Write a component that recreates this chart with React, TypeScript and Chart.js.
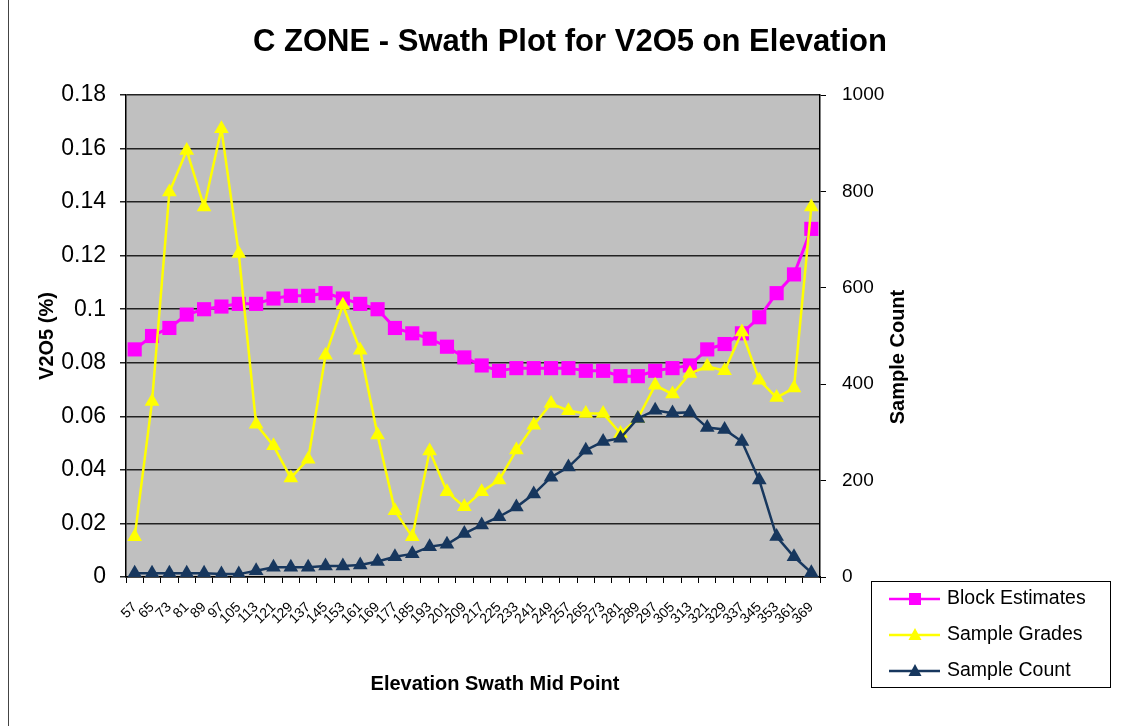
import { useEffect, useRef } from "react";
import { Chart, registerables } from "chart.js";

Chart.register(...registerables);

const FONT = "'Liberation Sans', Arial, Helvetica, sans-serif";

const elevations: string[] = [
  "57", "65", "73", "81", "89", "97", "105", "113", "121", "129",
  "137", "145", "153", "161", "169", "177", "185", "193", "201", "209",
  "217", "225", "233", "241", "249", "257", "265", "273", "281", "289",
  "297", "305", "313", "321", "329", "337", "345", "353", "361", "369",
];

const blockEstimates: number[] = [
  0.085, 0.09, 0.093, 0.098, 0.1, 0.101, 0.102, 0.102, 0.104, 0.105,
  0.105, 0.106, 0.104, 0.102, 0.1, 0.093, 0.091, 0.089, 0.086, 0.082,
  0.079, 0.077, 0.078, 0.078, 0.078, 0.078, 0.077, 0.077, 0.075, 0.075,
  0.077, 0.078, 0.079, 0.085, 0.087, 0.091, 0.097, 0.106, 0.113, 0.13,
];

const sampleGrades: number[] = [
  0.015, 0.0655, 0.1438, 0.1593, 0.1382, 0.1674, 0.1208, 0.057, 0.049, 0.037,
  0.044, 0.0828, 0.1015, 0.0847, 0.053, 0.0247, 0.015, 0.0471, 0.0318, 0.0262,
  0.0318, 0.0362, 0.0474, 0.0567, 0.0648, 0.0621, 0.0611, 0.0611, 0.0536, 0.0592,
  0.0716, 0.0683, 0.076, 0.0787, 0.077, 0.0915, 0.0735, 0.067, 0.0706, 0.1382,
];

const sampleCount: number[] = [
  8, 8, 8, 8, 8, 6, 6, 13, 20, 20,
  20, 23, 23, 25, 32, 42, 48, 63, 68, 90,
  108, 125, 145, 172, 207, 228, 263, 281, 288, 329,
  346, 340, 342, 310, 306, 281, 201, 84, 42, 9,
];

const gradeTicks = { min: 0, max: 0.18, step: 0.02 };
const countTicks = { min: 0, max: 1000, step: 200 };

const MAGENTA = "#FF00FF";
const YELLOW = "#FFFF00";
const NAVY = "#17375E";

const legendItems = [
  { label: "Block Estimates", color: MAGENTA, style: "rect" },
  { label: "Sample Grades", color: YELLOW, style: "triangle" },
  { label: "Sample Count", color: NAVY, style: "triangle" },
];

const decorPlugin = {
  id: "decor",
  beforeDraw(chart: any) {
    const { ctx, chartArea } = chart;
    ctx.save();
    ctx.fillStyle = "#FFFFFF";
    ctx.fillRect(0, 0, chart.width, chart.height);
    ctx.fillStyle = "#C0C0C0";
    ctx.fillRect(chartArea.left, chartArea.top, chartArea.right - chartArea.left, chartArea.bottom - chartArea.top);
    ctx.restore();
  },
  afterDraw(chart: any) {
    const { ctx } = chart;
    ctx.save();
    // left page border
    ctx.strokeStyle = "#444";
    ctx.lineWidth = 1;
    ctx.beginPath();
    ctx.moveTo(8.5, 0);
    ctx.lineTo(8.5, chart.height);
    ctx.stroke();

    ctx.fillStyle = "#000";
    ctx.textAlign = "center";
    ctx.textBaseline = "middle";
    ctx.font = `bold 31px ${FONT}`;
    ctx.fillText("C ZONE - Swath Plot for V2O5 on Elevation", 570, 42);

    ctx.font = `bold 20px ${FONT}`;
    ctx.fillText("Elevation Swath Mid Point", 495, 684);

    ctx.save();
    ctx.translate(47, 336);
    ctx.rotate(-Math.PI / 2);
    ctx.fillText("V2O5 (%)", 0, 0);
    ctx.restore();

    ctx.save();
    ctx.translate(898, 357);
    ctx.rotate(-Math.PI / 2);
    ctx.fillText("Sample Count", 0, 0);
    ctx.restore();

    // legend
    ctx.strokeStyle = "#000";
    ctx.lineWidth = 1;
    ctx.strokeRect(871.5, 581.5, 239, 106);
    ctx.textAlign = "left";
    ctx.font = `19.5px ${FONT}`;
    legendItems.forEach((it, i) => {
      const y = 599 + i * 36;
      ctx.strokeStyle = it.color;
      ctx.lineWidth = 2.5;
      ctx.beginPath();
      ctx.moveTo(889, y);
      ctx.lineTo(940, y);
      ctx.stroke();
      ctx.fillStyle = it.color;
      if (it.style === "rect") {
        ctx.fillRect(909, y - 6, 12, 12);
      } else {
        ctx.beginPath();
        ctx.moveTo(915, y - 7);
        ctx.lineTo(921.5, y + 5);
        ctx.lineTo(908.5, y + 5);
        ctx.closePath();
        ctx.fill();
      }
      ctx.fillStyle = "#000";
      ctx.fillText(it.label, 947, y);
    });
    ctx.restore();
  },
};

export default function App() {
  const ref = useRef<HTMLCanvasElement | null>(null);

  useEffect(() => {
    if (!ref.current) return;
    const chart = new Chart(ref.current, {
      type: "line",
      data: {
        labels: elevations,
        datasets: [
          {
            label: "Block Estimates",
            data: blockEstimates,
            yAxisID: "yL",
            borderColor: MAGENTA,
            backgroundColor: MAGENTA,
            borderWidth: 3,
            pointStyle: "rect",
            pointRadius: 10,
            pointBorderWidth: 0,
            tension: 0,
            order: 3,
          },
          {
            label: "Sample Grades",
            data: sampleGrades,
            yAxisID: "yL",
            borderColor: YELLOW,
            backgroundColor: YELLOW,
            borderWidth: 2.5,
            pointStyle: "triangle",
            pointRadius: 8.5,
            pointBorderWidth: 0,
            tension: 0,
            order: 2,
          },
          {
            label: "Sample Count",
            data: sampleCount,
            yAxisID: "yR",
            borderColor: NAVY,
            backgroundColor: NAVY,
            borderWidth: 2.5,
            pointStyle: "triangle",
            pointRadius: 8.5,
            pointBorderWidth: 0,
            tension: 0,
            order: 1,
          },
        ],
      },
      options: {
        responsive: false,
        animation: false,
        layout: { padding: { top: 95, left: 0, right: 0, bottom: 0 } },
        plugins: {
          legend: { display: false },
          title: { display: false },
          tooltip: { enabled: false },
        },
        scales: {
          x: {
            type: "category",
            offset: true,
            grid: {
              offset: true,
              drawOnChartArea: false,
              drawTicks: true,
              tickLength: 6,
              color: "#000",
            },
            border: { color: "#000", width: 1.5 },
            ticks: {
              autoSkip: false,
              minRotation: 45,
              maxRotation: 45,
              color: "#000",
              padding: 16,
              font: { family: FONT, size: 14 },
            },
            afterFit: (s: any) => {
              s.height = 149;
            },
          },
          yL: {
            type: "linear",
            position: "left",
            min: gradeTicks.min,
            max: gradeTicks.max,
            grid: { color: "#222", lineWidth: 1.5, tickLength: 6 },
            border: { color: "#000", width: 1.5 },
            ticks: {
              stepSize: gradeTicks.step,
              color: "#000",
              padding: 14,
              font: { family: FONT, size: 23 },
              callback: (v: any) => String(+Number(v).toFixed(2)),
            },
            afterFit: (s: any) => {
              s.width = 126;
            },
          },
          yR: {
            type: "linear",
            position: "right",
            min: countTicks.min,
            max: countTicks.max,
            grid: { drawOnChartArea: false, color: "#000", tickLength: 6 },
            border: { color: "#000", width: 1.5 },
            ticks: {
              stepSize: countTicks.step,
              color: "#000",
              padding: 16,
              font: { family: FONT, size: 19 },
              callback: (v: any) => String(Math.round(Number(v))),
            },
            afterFit: (s: any) => {
              s.width = 315;
            },
          },
        },
      },
      plugins: [decorPlugin],
    });
    return () => chart.destroy();
  }, []);

  return (
    <canvas
      ref={ref}
      width={1135}
      height={726}
      style={{ position: "fixed", left: 0, top: 0, width: 1135, height: 726, display: "block" }}
    />
  );
}
